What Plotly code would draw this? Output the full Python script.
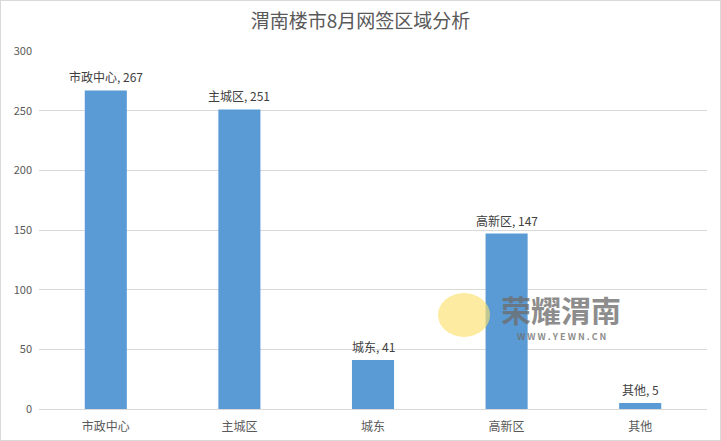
import plotly.graph_objects as go

categories = ["市政中心", "主城区", "城东", "高新区", "其他"]
values = [267, 251, 41, 147, 5]
y_ticks = [0, 50, 100, 150, 200, 250, 300]

font_family = "Noto Sans CJK SC, Noto Sans, sans-serif"

fig = go.Figure()
fig.add_trace(go.Bar(
    x=categories, y=values,
    marker=dict(color="#5B9BD5", line=dict(width=0)),
    width=0.315,
))

for c, v in zip(categories, values):
    fig.add_annotation(x=c, y=v, xref="x", yref="y", text=f"{c}, {v}",
                       showarrow=False, xanchor="center", yanchor="bottom", yshift=3,
                       font=dict(size=12, color="#404040", family=font_family))

fig.update_layout(
    width=721, height=441,
    margin=dict(l=39, r=14, t=51, b=32),
    paper_bgcolor="white", plot_bgcolor="white",
    showlegend=False,
    font=dict(family=font_family, color="#595959", size=12),
    title=dict(text="渭南楼市8月网签区域分析", x=0.5, xanchor="center",
               y=0.952, yanchor="middle",
               font=dict(size=19, color="#595959", family=font_family)),
    xaxis=dict(showgrid=False, showline=True, linecolor="#D9D9D9", linewidth=1,
               ticks="", tickfont=dict(size=12, color="#595959"), ticklabelstandoff=7,
               automargin=False),
    yaxis=dict(range=[0, 300], tickvals=y_ticks, showgrid=True, gridcolor="#D9D9D9",
               gridwidth=1, zeroline=False, showline=False, ticks="",
               tickfont=dict(size=11, color="#595959"), ticklabelstandoff=6,
               automargin=False),
)

# outer frame
fig.add_shape(type="rect", xref="paper", yref="paper",
              x0=-39/668, x1=1+14/668, y0=-32/358, y1=1+51/358,
              line=dict(color="#D9D9D9", width=2), layer="above")

# watermark
fig.add_shape(type="circle", xref="paper", yref="paper",
              x0=(438-39)/668, x1=(490-39)/668, y0=(409-337)/358, y1=(409-293)/358,
              fillcolor="rgba(250,225,110,0.65)", line=dict(width=0))
fig.add_annotation(text="<b>荣耀渭南</b>", xref="paper", yref="paper",
                   x=(561-39)/668, y=(409-309)/358, showarrow=False,
                   xanchor="center", yanchor="middle",
                   font=dict(size=30, color="rgba(110,110,110,0.8)", family=font_family))
fig.add_annotation(text="<b>W W W . Y E W N . C N</b>", xref="paper", yref="paper",
                   x=(561-39)/668, y=(409-336)/358, showarrow=False,
                   xanchor="center", yanchor="middle",
                   font=dict(size=9, color="rgba(110,110,110,0.8)", family=font_family))

fig.write_html("out.html")
